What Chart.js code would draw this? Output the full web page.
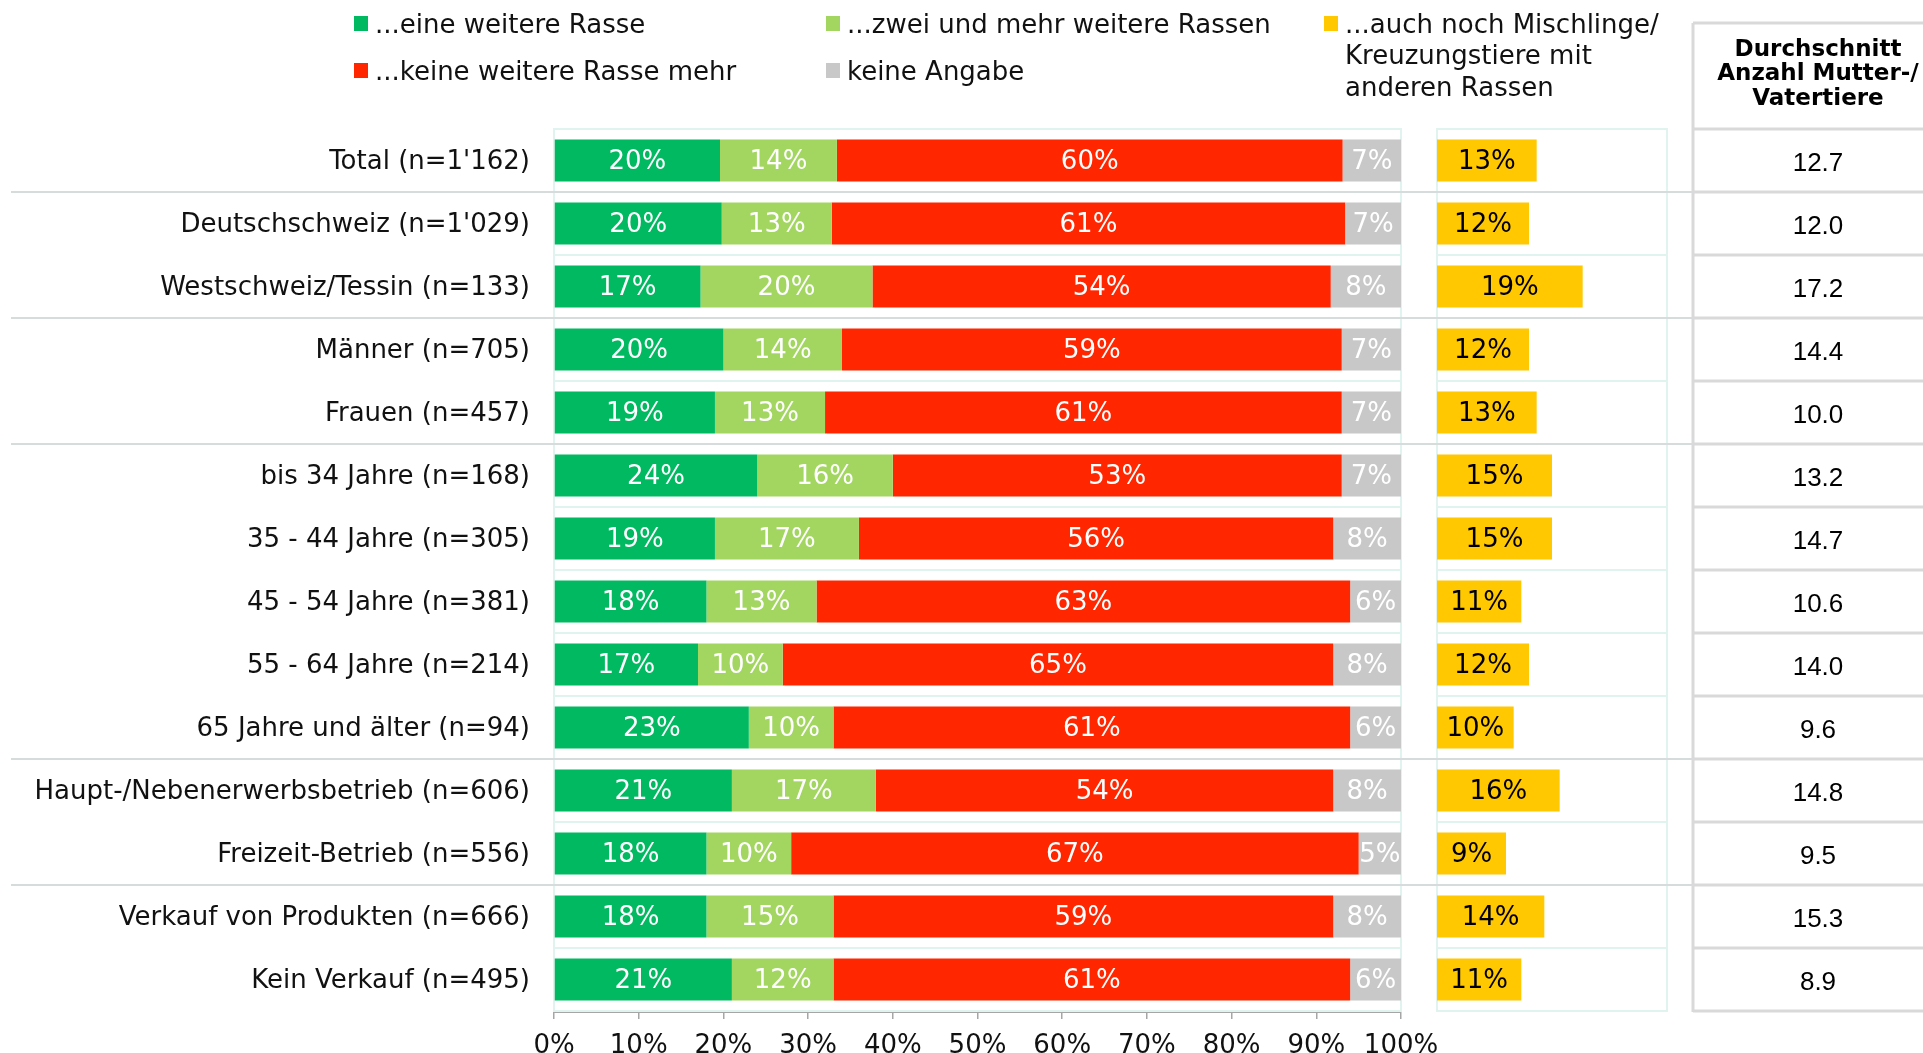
<!DOCTYPE html>
<html>
<head>
<meta charset="utf-8">
<title>Weitere Rassen</title>
<script src="https://cdn.jsdelivr.net/npm/chart.js"></script>
<style>
  body { margin: 0; background: #fff; }
  #wrap { position: relative; width: 1923px; height: 1053px; overflow: hidden; }
  #wrap canvas { position: absolute; left: 0; top: 0; }
</style>
</head>
<body>
<div id="wrap">
  <canvas id="main" width="1923" height="1053"></canvas>
  <canvas id="side" width="1923" height="1053"></canvas>
</div>
<script>
// Kategorien (Zeilen)
const categories = [
  "Total (n=1'162)", "Deutschschweiz (n=1'029)", "Westschweiz/Tessin (n=133)",
  "Männer (n=705)", "Frauen (n=457)", "bis 34 Jahre (n=168)", "35 - 44 Jahre (n=305)",
  "45 - 54 Jahre (n=381)", "55 - 64 Jahre (n=214)", "65 Jahre und älter (n=94)",
  "Haupt-/Nebenerwerbsbetrieb (n=606)", "Freizeit-Betrieb (n=556)",
  "Verkauf von Produkten (n=666)", "Kein Verkauf (n=495)"
];

// Anteile in % (gestapelt)
const eineWeitere  = [19.6, 19.8, 17.3, 20, 19, 24, 19, 18, 17, 23, 21, 18, 18, 21];
const zweiUndMehr  = [13.8, 13.0, 20.3, 14, 13, 16, 17, 13, 10, 10, 17, 10, 15, 12];
const keineMehr    = [59.7, 60.6, 54.1, 59, 61, 53, 56, 63, 65, 61, 54, 67, 59, 61];
const keineAngabe  = [6.9, 6.6, 8.3, 7, 7, 7, 8, 6, 8, 6, 8, 5, 8, 6];

// zusätzlich: auch Mischlinge / Kreuzungstiere
const mischlinge   = [13, 12, 19, 12, 13, 15, 15, 11, 12, 10, 16, 9, 14, 11];

// Durchschnitt Anzahl Mutter-/Vatertiere
const durchschnitt = [12.7, 12.0, 17.2, 14.4, 10.0, 13.2, 14.7, 10.6, 14.0, 9.6, 14.8, 9.5, 15.3, 8.9];

const xTicks = [0, 10, 20, 30, 40, 50, 60, 70, 80, 90, 100];
const groupBreaks = [0, 2, 4, 9, 11]; // Trennlinie nach diesen Zeilen

const seriesLabels = [
  '...eine weitere Rasse', '...zwei und mehr weitere Rassen',
  '...keine weitere Rasse mehr', 'keine Angabe'
];
const mischLabel = ['...auch noch Mischlinge/', 'Kreuzungstiere mit', 'anderen Rassen'];
const tableHeader = ['Durchschnitt', 'Anzahl Mutter-/', 'Vatertiere'];

const COLORS = ['#00b960', '#a3d661', '#ff2600', '#c8c8c8'];
const YELLOW = '#ffc800';
const MINT = '#e0f3ee';
const SEP = '#d6dcdc';
const TABLE_LINE = '#d9d9d9';
const FONT = 'DejaVu Sans';

Chart.defaults.font.family = FONT;
Chart.defaults.font.size = 26;
Chart.defaults.color = '#111';

// Balkenbeschriftung in der Mitte jedes Segments
const barLabels = {
  id: 'barLabels',
  afterDatasetsDraw(chart, args, opts) {
    const { ctx } = chart;
    ctx.save();
    ctx.font = '26px ' + FONT;
    ctx.textAlign = 'center';
    ctx.textBaseline = 'middle';
    chart.data.datasets.forEach((ds, i) => {
      chart.getDatasetMeta(i).data.forEach((bar, j) => {
        const p = bar.getProps(['x', 'y', 'base'], true);
        ctx.fillStyle = opts.color;
        ctx.fillText(Math.round(ds.data[j]) + '%', (p.x + p.base) / 2, p.y + 2);
      });
    });
    ctx.restore();
  }
};

// feiner Rahmen um die Zeichenfläche
const frame = {
  id: 'frame',
  beforeDatasetsDraw(chart) {
    const { ctx, chartArea: a } = chart;
    ctx.save();
    ctx.strokeStyle = MINT;
    ctx.lineWidth = 2;
    ctx.strokeRect(a.left, a.top, a.right - a.left, a.bottom - a.top);
    ctx.restore();
  }
};

// Legende oben
const topLegend = {
  id: 'topLegend',
  afterDraw(chart) {
    const { ctx } = chart;
    const items = [
      { c: COLORS[0], t: [seriesLabels[0]], x: 354, y: 25 },
      { c: COLORS[1], t: [seriesLabels[1]], x: 826, y: 25 },
      { c: YELLOW,    t: mischLabel,        x: 1324, y: 25 },
      { c: COLORS[2], t: [seriesLabels[2]], x: 354, y: 72 },
      { c: COLORS[3], t: [seriesLabels[3]], x: 826, y: 72 }
    ];
    ctx.save();
    ctx.font = '26px ' + FONT;
    ctx.textBaseline = 'middle';
    ctx.textAlign = 'left';
    items.forEach(it => {
      ctx.fillStyle = it.c;
      ctx.fillRect(it.x, it.y - 9, 14, 15);
      ctx.fillStyle = '#111';
      it.t.forEach((line, k) => ctx.fillText(line, it.x + 21, it.y + 1 + k * 31.5));
    });
    ctx.restore();
  }
};

// Trennlinien zwischen den Gruppen und Tabelle rechts
const sideTable = {
  id: 'sideTable',
  afterDraw(chart) {
    const { ctx } = chart;
    const y = chart.scales.y;
    const half = (y.getPixelForValue(1) - y.getPixelForValue(0)) / 2;
    const tx = 1693;
    ctx.save();

    ctx.strokeStyle = SEP;
    ctx.lineWidth = 2;
    groupBreaks.forEach(i => {
      const yy = y.getPixelForValue(i) + half;
      ctx.beginPath(); ctx.moveTo(11, yy); ctx.lineTo(tx, yy); ctx.stroke();
    });

    ctx.strokeStyle = TABLE_LINE;
    ctx.lineWidth = 3;
    const bottom = y.getPixelForValue(categories.length - 1) + half + 1;
    ctx.beginPath(); ctx.moveTo(tx, 23); ctx.lineTo(tx, bottom); ctx.stroke();
    ctx.beginPath(); ctx.moveTo(tx, 23); ctx.lineTo(1923, 23); ctx.stroke();
    for (let i = 0; i <= categories.length; i++) {
      const yy = y.getPixelForValue(i) - half;
      ctx.beginPath(); ctx.moveTo(tx, yy); ctx.lineTo(1923, yy); ctx.stroke();
    }

    const cx = 1818;
    ctx.fillStyle = '#000';
    ctx.textAlign = 'center';
    ctx.textBaseline = 'middle';
    ctx.font = 'bold 23px ' + FONT;
    tableHeader.forEach((t, k) => ctx.fillText(t, cx, 50 + k * 24.5));
    ctx.font = '26px "Liberation Sans"';
    durchschnitt.forEach((v, i) => ctx.fillText(v.toFixed(1), cx, y.getPixelForValue(i) + 3));
    ctx.restore();
  }
};

const rowGrid = {
  offset: true,
  color: MINT,
  lineWidth: 2,
  drawTicks: false
};

new Chart(document.getElementById('main'), {
  type: 'bar',
  data: {
    labels: categories,
    datasets: [eineWeitere, zweiUndMehr, keineMehr, keineAngabe].map((d, i) => ({
      label: seriesLabels[i],
      data: d,
      backgroundColor: COLORS[i],
      borderWidth: 0,
      barPercentage: 0.667,
      categoryPercentage: 1
    }))
  },
  options: {
    indexAxis: 'y',
    responsive: false,
    devicePixelRatio: 1,
    animation: false,
    layout: { padding: { left: 0, right: 522, top: 129, bottom: 0 } },
    plugins: {
      legend: { display: false },
      tooltip: { enabled: false },
      barLabels: { color: '#fff' }
    },
    scales: {
      x: {
        stacked: true,
        min: 0,
        max: 100,
        afterFit: s => { s.height = 42; },
        afterBuildTicks: s => { s.ticks = xTicks.map(v => ({ value: v })); },
        ticks: { padding: 12, color: '#111', callback: v => v + '%' },
        grid: { drawOnChartArea: false, drawTicks: true, tickLength: 8, color: '#a6a6a6', lineWidth: 1.5 },
        border: { color: '#a6a6a6', width: 3 }
      },
      y: {
        stacked: true,
        afterFit: s => { s.width = 554; },
        ticks: { padding: 24, color: '#111', labelOffset: 2 },
        grid: rowGrid,
        border: { color: MINT, width: 2 }
      }
    }
  },
  plugins: [frame, barLabels, topLegend]
});

new Chart(document.getElementById('side'), {
  type: 'bar',
  data: {
    labels: categories,
    datasets: [{
      label: mischLabel.join(' '),
      data: mischlinge,
      backgroundColor: YELLOW,
      borderWidth: 0,
      barPercentage: 0.667,
      categoryPercentage: 1
    }]
  },
  options: {
    indexAxis: 'y',
    responsive: false,
    devicePixelRatio: 1,
    animation: false,
    layout: { padding: { left: 1437, right: 256, top: 129, bottom: 42 } },
    plugins: {
      legend: { display: false },
      tooltip: { enabled: false },
      barLabels: { color: '#000' }
    },
    scales: {
      x: { display: false, min: 0, max: 30 },
      y: {
        afterFit: s => { s.width = 0; },
        ticks: { display: false },
        grid: rowGrid,
        border: { color: MINT, width: 2 }
      }
    }
  },
  plugins: [frame, barLabels, sideTable]
});
</script>
</body>
</html>
